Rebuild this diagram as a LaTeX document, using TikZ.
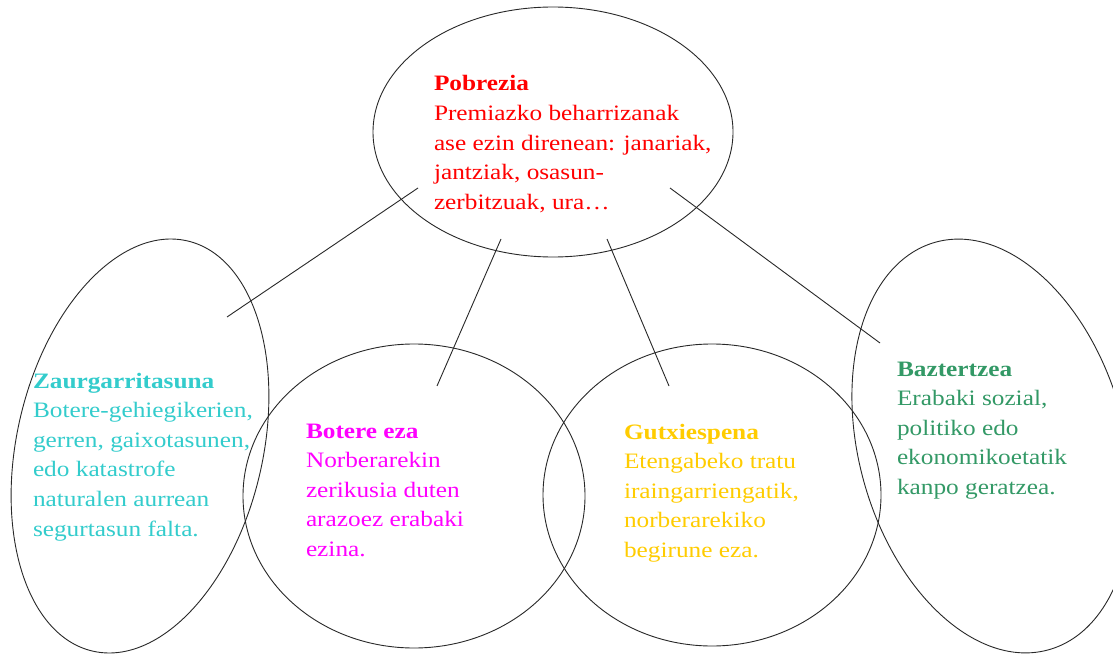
\documentclass[tikz,border=0pt]{standalone}
\usepackage{fontspec}
\setmainfont[FakeStretch=1.15]{Liberation Serif}
\usetikzlibrary{shapes.geometric}
\definecolor{cRed}{RGB}{255,0,0}
\definecolor{cCyan}{RGB}{51,204,204}
\definecolor{cMag}{RGB}{255,0,255}
\definecolor{cGold}{RGB}{255,204,0}
\definecolor{cGreen}{RGB}{51,153,102}
\definecolor{cLine}{RGB}{40,40,40}
\newcommand{\blocktext}[2]{\parbox[t]{10cm}{\fontsize{22}{29.6}\selectfont\raggedright\textbf{#1}\\#2}}
\tikzset{
  bubble/.style={ellipse, draw=cLine, line width=0.9pt, inner sep=0pt},
  link/.style={draw=cLine, line width=0.9pt},
  txt/.style={anchor=base west, inner sep=0pt, outer sep=0pt}
}
\begin{document}
\begin{tikzpicture}[x=1pt,y=-1pt]
\useasboundingbox[fill=white] (0,0) rectangle (1113,655);
% bubbles
\node[bubble, minimum width=360pt, minimum height=250pt] (pob) at (553,132) {};
\node[bubble, minimum width=246pt, minimum height=421pt, rotate=-13] (zau) at (140,446) {};
\node[bubble, minimum width=342pt, minimum height=304pt] (bot) at (414,496) {};
\node[bubble, minimum width=338pt, minimum height=302pt] (gut) at (712,495) {};
\node[bubble, minimum width=266pt, minimum height=423pt, rotate=15.5] (baz) at (992,446) {};
% link ends
\coordinate (p1) at (418,188);
\coordinate (z1) at (227,317);
\coordinate (p2) at (501,239);
\coordinate (b1) at (437,386);
\coordinate (p3) at (607,239);
\coordinate (g1) at (669,386);
\coordinate (p4) at (670,188);
\coordinate (x1) at (880,343);
\draw[link] (p1) -- (z1);
\draw[link] (p2) -- (b1);
\draw[link] (p3) -- (g1);
\draw[link] (p4) -- (x1);
% texts
\node[txt, text=cRed] (tpob) at (434,91) {\blocktext{Pobrezia}{Premiazko beharrizanak\\ase ezin direnean: janariak,\\jantziak, osasun-\\zerbitzuak, ura\dots}};
\node[txt, text=cCyan] (tzau) at (33,388) {\blocktext{Zaurgarritasuna}{Botere-gehiegikerien,\\gerren, gaixotasunen,\\edo katastrofe\\naturalen aurrean\\segurtasun falta.}};
\node[txt, text=cMag] (tbot) at (306,438) {\blocktext{Botere eza}{Norberarekin\\zerikusia duten\\arazoez erabaki\\ezina.}};
\node[txt, text=cGold] (tgut) at (624,439) {\blocktext{Gutxiespena}{Etengabeko tratu\\iraingarriengatik,\\norberarekiko\\begirune eza.}};
\node[txt, text=cGreen] (tbaz) at (897,376) {\blocktext{Baztertzea}{Erabaki sozial,\\politiko edo\\ekonomikoetatik\\kanpo geratzea.}};
\end{tikzpicture}
\end{document}
